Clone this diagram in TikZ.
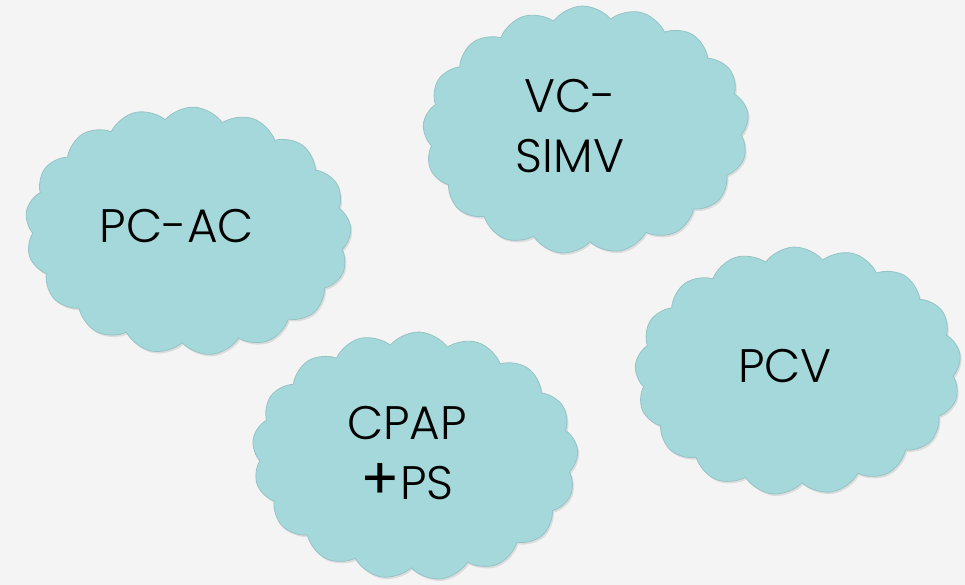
\documentclass[tikz,border=0pt]{standalone}
\usepackage{fontspec}
\setmainfont{Poppins Light}[BoldFont=Poppins Bold]
\newfontfamily\plusfont{Poppins}
\usepackage{tikz}
\usetikzlibrary{shapes.symbols,shadows}
\definecolor{cloudteal}{RGB}{165,216,218}
\definecolor{cloudedge}{RGB}{150,196,198}
\definecolor{paper}{RGB}{244,244,244}

\begin{document}
\begin{tikzpicture}[x=1pt,y=-1pt,
    puff/.style={cloud, cloud puffs=17, cloud puff arc=105, cloud ignores aspect,
      fill=cloudteal, draw=cloudedge, line width=0.8pt, inner sep=0pt,
      minimum width=326, minimum height=248,
      drop shadow={opacity=0.2, shadow xshift=1.5pt, shadow yshift=-2pt}},
    word/.style={font=\fontsize{47}{60}\selectfont, text=black, align=center, inner sep=0pt}]
    \fill[paper] (0,0) rectangle (965,585);
    \node[puff, rotate=-3] (acCloud) at (188,231) {};
    \node[puff, rotate=2] (simvCloud) at (586,130) {};
    \node[puff, rotate=-2] (cpapCloud) at (415,456) {};
    \node[puff, rotate=2] (pcvCloud) at (798,371) {};
    \node[word] (acText) at (177,226) {PC-AC};
    \node[word] (simvText) at (570,126) {VC-\\SIMV};
    \node[word] (cpapText) at (407,453) {CPAP\\{\plusfont\fontsize{58}{60}\selectfont +}PS};
    \node[word] (pcvText) at (785,366) {PCV};
  \end{tikzpicture}
\end{document}
